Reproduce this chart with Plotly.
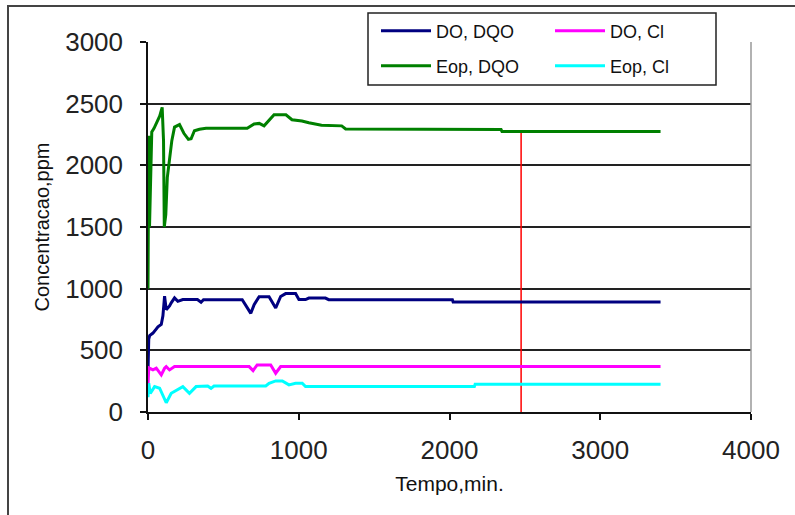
import plotly.graph_objects as go

# ---- data ----
green_t = [0, 5, 10, 25, 40, 58, 78, 94, 103, 108, 118, 128, 143, 158, 176, 209, 238, 268, 286, 308, 341, 385, 658, 704, 738, 770, 836, 915, 955, 1021, 1067, 1151, 1285, 1311, 2342, 2348, 3400]
green_v = [1000, 2240, 1500, 2270, 2300, 2350, 2400, 2470, 2200, 1500, 1600, 1900, 2050, 2200, 2310, 2330, 2260, 2210, 2215, 2280, 2293, 2300, 2300, 2335, 2340, 2320, 2410, 2410, 2370, 2360, 2345, 2325, 2320, 2295, 2290, 2275, 2275]

blue_t = [0, 5, 11, 33, 66, 88, 99, 110, 121, 143, 154, 165, 176, 198, 231, 328, 352, 368, 625, 682, 704, 737, 803, 847, 880, 913, 979, 1001, 1045, 1067, 1177, 1199, 2019, 2024, 3400]
blue_v = [330, 590, 620, 640, 690, 710, 780, 940, 830, 860, 885, 910, 925, 897, 912, 912, 890, 910, 910, 800, 870, 935, 935, 843, 937, 960, 960, 912, 912, 924, 924, 911, 911, 892, 892]

magenta_t = [0, 5, 33, 55, 88, 110, 121, 143, 176, 671, 697, 724, 814, 847, 880, 3400]
magenta_v = [220, 358, 341, 355, 301, 355, 368, 341, 368, 368, 336, 382, 382, 314, 368, 368]

cyan_t = [0, 5, 15, 44, 77, 121, 154, 198, 231, 275, 319, 396, 418, 438, 781, 803, 847, 891, 935, 979, 1023, 1045, 2165, 2170, 3400]
cyan_v = [120, 233, 150, 206, 193, 75, 152, 179, 206, 152, 206, 211, 192, 211, 211, 233, 252, 252, 220, 233, 233, 206, 206, 225, 225]

marker_t = [2475, 2475]
marker_v = [0, 2285]

x_ticks = [0, 1000, 2000, 3000, 4000]
y_ticks = [0, 500, 1000, 1500, 2000, 2500, 3000]

FONT = "Liberation Sans, Arial, sans-serif"

fig = go.Figure()
fig.add_trace(go.Scatter(x=marker_t, y=marker_v, mode="lines",
                         line=dict(color="#ff0000", width=1.5), showlegend=False, hoverinfo="skip"))
fig.add_trace(go.Scatter(x=blue_t, y=blue_v, mode="lines", name="DO, DQO",
                         line=dict(color="#000080", width=3), legend="legend"))
fig.add_trace(go.Scatter(x=magenta_t, y=magenta_v, mode="lines", name="DO, Cl",
                         line=dict(color="#ff00ff", width=3), legend="legend2"))
fig.add_trace(go.Scatter(x=green_t, y=green_v, mode="lines", name="Eop, DQO",
                         line=dict(color="#008000", width=3), legend="legend3"))
fig.add_trace(go.Scatter(x=cyan_t, y=cyan_v, mode="lines", name="Eop, Cl",
                         line=dict(color="#00ffff", width=3), legend="legend4"))

L, R, T, B = 148, 44, 42, 103
W, H = 795, 515
pw = W - L - R
ph = H - T - B

def px_x(p):
    return (p - L) / pw

def px_y(p):
    return (H - B - p) / ph

leg_common = dict(bgcolor="rgba(0,0,0,0)", borderwidth=0, itemwidth=50,
                  font=dict(family=FONT, size=18, color="#111"),
                  xanchor="left", yanchor="middle")

fig.update_layout(
    width=W, height=H,
    margin=dict(l=L, r=R, t=T, b=B, autoexpand=False),
    paper_bgcolor="white", plot_bgcolor="white",
    font=dict(family=FONT, color="#222"),
    legend=dict(x=px_x(376), y=px_y(31), **leg_common),
    legend2=dict(x=px_x(550), y=px_y(31), **leg_common),
    legend3=dict(x=px_x(376), y=px_y(66), **leg_common),
    legend4=dict(x=px_x(550), y=px_y(66), **leg_common),
    xaxis=dict(range=[0, 4000], tickvals=x_ticks, ticktext=[str(v) for v in x_ticks],
               showgrid=False, zeroline=False, showline=True, linecolor="#111", linewidth=1.5,
               ticks="outside", ticklen=6, tickwidth=1.5, tickcolor="#111",
               tickfont=dict(family=FONT, size=26, color="#222"), ticklabelstandoff=8,
               title=dict(text="Tempo,min.", font=dict(family=FONT, size=21, color="#111"), standoff=12),
               automargin=False),
    yaxis=dict(range=[0, 3000], tickvals=y_ticks, ticktext=[str(v) for v in y_ticks],
               showgrid=True, gridcolor="#222", gridwidth=1.5, zeroline=False,
               showline=True, linecolor="#111", linewidth=1.5,
               ticks="outside", ticklen=6, tickwidth=1.5, tickcolor="#111",
               tickfont=dict(family=FONT, size=26, color="#222"), ticklabelstandoff=12,
               title=dict(text="Concentracao,ppm", font=dict(family=FONT, size=20, color="#111"), standoff=10),
               automargin=False),
    shapes=[
        # plot area right border
        dict(type="line", xref="paper", yref="paper", x0=1, x1=1, y0=0, y1=1,
             line=dict(color="#999", width=1.5)),
        # legend box
        dict(type="rect", xref="paper", yref="paper", layer="above",
             x0=px_x(368), x1=px_x(716), y0=px_y(85), y1=px_y(13),
             fillcolor="white", line=dict(color="#222", width=1.5)),
        # outer chart frame (top and left edges visible)
        dict(type="rect", xref="paper", yref="paper",
             x0=px_x(8), x1=px_x(900), y0=px_y(600), y1=px_y(6),
             line=dict(color="#444", width=2)),
    ],
)

fig.write_html("out.html",
               config={"displayModeBar": False},
               post_script="document.body.style.margin='0';document.body.style.overflow='hidden';")
